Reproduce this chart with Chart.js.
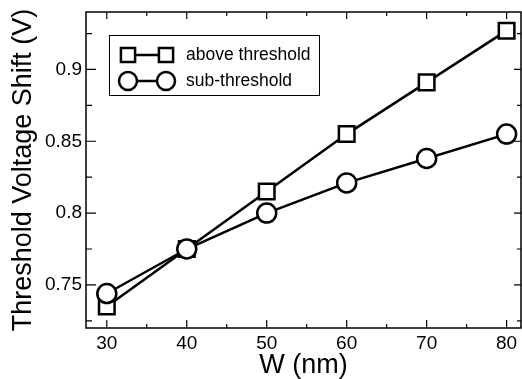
<!DOCTYPE html>
<html>
<head>
<meta charset="utf-8">
<script src="https://cdn.jsdelivr.net/npm/chart.js@4/dist/chart.umd.min.js"></script>
<style>
    html, body { margin: 0; padding: 0; background: #fff; }
</style>
</head>
<body>
<canvas id="chart" width="522" height="379"></canvas>
<script>
// data
const widths = [30, 40, 50, 60, 70, 80];
const aboveThreshold = [0.735, 0.775, 0.815, 0.855, 0.891, 0.927];
const subThreshold = [0.744, 0.775, 0.800, 0.821, 0.838, 0.855];
const xTicks = [30, 40, 50, 60, 70, 80];
const yTicks = [0.75, 0.8, 0.85, 0.9];
const seriesNames = ['above threshold', 'sub-threshold'];

const FONT = "'Liberation Sans', Arial, Helvetica, sans-serif";

// frame, inward ticks on all four sides, and the boxed legend
const framePlugin = {
    id: 'frame',
    afterDraw(chart) {
        const ctx = chart.ctx;
        const a = chart.chartArea;
        const xs = chart.scales.x;
        const ys = chart.scales.y;
        ctx.save();
        ctx.strokeStyle = '#000';
        ctx.lineWidth = 1.5;
        ctx.strokeRect(a.left, a.top, a.right - a.left, a.bottom - a.top);

        function withMinor(ticks, min, max) {
            const step = ticks[1] - ticks[0];
            const out = [];
            for (let i = -1; i < ticks.length; i++) {
                const v = (i < 0 ? ticks[0] : ticks[i]) + (i < 0 ? -step / 2 : step / 2);
                if (v > min && v < max) out.push(v);
            }
            return out;
        }
        ctx.lineWidth = 1.2;
        ctx.beginPath();
        xTicks.forEach(v => {
            const px = xs.getPixelForValue(v);
            ctx.moveTo(px, a.bottom); ctx.lineTo(px, a.bottom - 8);
            ctx.moveTo(px, a.top); ctx.lineTo(px, a.top + 7);
        });
        withMinor(xTicks, xs.min, xs.max).forEach(v => {
            const px = xs.getPixelForValue(v);
            ctx.moveTo(px, a.bottom); ctx.lineTo(px, a.bottom - 4);
            ctx.moveTo(px, a.top); ctx.lineTo(px, a.top + 4);
        });
        yTicks.forEach(v => {
            const py = ys.getPixelForValue(v);
            ctx.moveTo(a.left, py); ctx.lineTo(a.left + 10, py);
            ctx.moveTo(a.right, py); ctx.lineTo(a.right - 7, py);
        });
        withMinor(yTicks, ys.min, ys.max).forEach(v => {
            const py = ys.getPixelForValue(v);
            ctx.moveTo(a.left, py); ctx.lineTo(a.left + 6, py);
            ctx.moveTo(a.right, py); ctx.lineTo(a.right - 4, py);
        });
        ctx.stroke();

        // legend box
        const bx = a.left + 23, by = a.top + 23, bw = 210, bh = 60;
        ctx.fillStyle = '#fff';
        ctx.fillRect(bx, by, bw, bh);
        ctx.lineWidth = 1;
        ctx.strokeStyle = '#000';
        ctx.strokeRect(bx + 0.5, by + 0.5, bw, bh);

        chart.data.datasets.forEach((ds, i) => {
            const cy = by + 20 + i * 26;
            const x1 = bx + 19, x2 = bx + 57;
            ctx.strokeStyle = '#000';
            ctx.lineWidth = 2.5;
            ctx.beginPath();
            ctx.moveTo(x1, cy); ctx.lineTo(x2, cy);
            ctx.stroke();
            ctx.fillStyle = '#fff';
            const opts = {
                pointStyle: ds.pointStyle,
                radius: ds.pointStyle === 'rect' ? 10 : 9,
                borderWidth: 2.5,
                rotation: 0
            };
            Chart.helpers.drawPoint(ctx, opts, x1, cy);
            Chart.helpers.drawPoint(ctx, opts, x2, cy);
            ctx.fillStyle = '#000';
            ctx.font = '17.5px ' + FONT;
            ctx.textBaseline = 'middle';
            ctx.textAlign = 'left';
            ctx.fillText(ds.label, bx + 77, cy);
        });
        ctx.restore();
    }
};

const toPoints = ys => widths.map((w, i) => ({ x: w, y: ys[i] }));

new Chart(document.getElementById('chart'), {
    type: 'line',
    data: {
        datasets: [{
            label: seriesNames[0],
            data: toPoints(aboveThreshold),
            borderColor: '#000',
            borderWidth: 2.5,
            pointStyle: 'rect',
            pointRadius: 11,
            pointBorderWidth: 2.5,
            pointBackgroundColor: '#fff',
            pointBorderColor: '#000',
            order: 1
        }, {
            label: seriesNames[1],
            data: toPoints(subThreshold),
            borderColor: '#000',
            borderWidth: 2.5,
            pointStyle: 'circle',
            pointRadius: 9.5,
            pointBorderWidth: 2.5,
            pointBackgroundColor: '#fff',
            pointBorderColor: '#000',
            order: 0
        }]
    },
    options: {
        responsive: false,
        animation: false,
        events: [],
        layout: { autoPadding: false, padding: { left: 0, top: 12, right: 1, bottom: 0 } },
        plugins: {
            legend: { display: false },
            tooltip: { enabled: false }
        },
        scales: {
            x: {
                type: 'linear',
                min: 27.4,
                max: 81.8,
                afterBuildTicks: s => { s.ticks = xTicks.map(v => ({ value: v })); },
                afterFit: s => { s.height = 51; s.paddingLeft = 0; s.paddingRight = 0; },
                grid: { display: false, drawTicks: false },
                border: { display: false },
                ticks: {
                    color: '#000',
                    padding: 4,
                    font: { family: FONT, size: 19 },
                    callback: v => String(v)
                },
                title: {
                    display: true,
                    text: 'W (nm)',
                    color: '#000',
                    font: { family: FONT, size: 27, lineHeight: 1 },
                    padding: { top: 0, bottom: 0 }
                }
            },
            y: {
                min: 0.72,
                max: 0.94,
                afterBuildTicks: s => { s.ticks = yTicks.map(v => ({ value: v })); },
                afterFit: s => { s.width = 86; s.paddingTop = 0; s.paddingBottom = 0; },
                grid: { display: false, drawTicks: false },
                border: { display: false },
                ticks: {
                    color: '#000',
                    padding: 4,
                    font: { family: FONT, size: 19 },
                    callback: v => String(v)
                },
                title: {
                    display: true,
                    text: 'Threshold Voltage Shift (V)',
                    color: '#000',
                    font: { family: FONT, size: 27, lineHeight: 1 },
                    padding: { top: 10, bottom: 0 }
                }
            }
        }
    },
    plugins: [framePlugin]
});
</script>
</body>
</html>
